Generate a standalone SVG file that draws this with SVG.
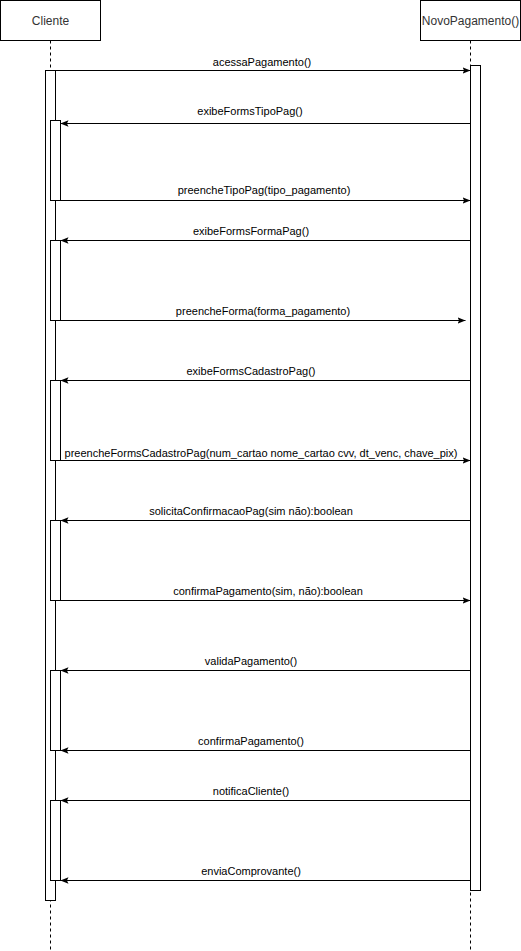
<svg xmlns="http://www.w3.org/2000/svg" width="521" height="951" viewBox="0 0 521 951">
<defs>
<style>
.box{fill:#fff;stroke:#000;stroke-width:1}
.life{stroke:#000;stroke-width:1;stroke-dasharray:3,3;fill:none}
.act{fill:#fff;stroke:#000;stroke-width:1}
.msg{stroke:#000;stroke-width:1;fill:none;marker-end:url(#arr)}
.hdr{font-family:"Liberation Sans",Arial,sans-serif;font-size:12px;fill:#333;text-anchor:middle}
.lbl{font-family:"Liberation Sans",Arial,sans-serif;font-size:11px;fill:#000;text-anchor:middle}
</style>
<marker id="arr" viewBox="0 0 10 10" refX="10" refY="5" markerWidth="8" markerHeight="8" markerUnits="userSpaceOnUse" orient="auto">
<path d="M0,1 L10,5 L0,9 L2,5 Z" fill="#000"/>
</marker>
</defs>
<rect width="521" height="951" fill="#fff"/>
<g id="Cliente">
<rect class="box" x="0.5" y="0.5" width="100" height="40"/>
<text class="hdr" x="50.5" y="24.5">Cliente</text>
<line class="life" x1="50.5" y1="40.5" x2="50.5" y2="951"/>
<rect class="act" x="45.5" y="70.5" width="10" height="830"/>
<rect class="act" x="50.5" y="120.5" width="10" height="80"/>
<rect class="act" x="50.5" y="240.5" width="10" height="80"/>
<rect class="act" x="50.5" y="380.5" width="10" height="80"/>
<rect class="act" x="50.5" y="520.5" width="10" height="80"/>
<rect class="act" x="50.5" y="670.5" width="10" height="80"/>
<rect class="act" x="50.5" y="800.5" width="10" height="80"/>
</g>
<g id="NovoPagamento">
<rect class="box" x="420.5" y="0.5" width="100" height="40"/>
<text class="hdr" x="470.5" y="24.5">NovoPagamento()</text>
<line class="life" x1="470.5" y1="40.5" x2="470.5" y2="951"/>
<rect class="act" x="470.5" y="65.5" width="10" height="825"/>
</g>
<g id="connectors">
<line class="msg" x1="55.5" y1="70.5" x2="470.5" y2="70.5"/>
<text class="lbl" x="262" y="66">acessaPagamento()</text>
<line class="msg" x1="470.5" y1="123.5" x2="60.5" y2="123.5"/>
<text class="lbl" x="250" y="115">exibeFormsTipoPag()</text>
<line class="msg" x1="50.5" y1="200.5" x2="470.5" y2="200.5"/>
<text class="lbl" x="264" y="194">preencheTipoPag(tipo_pagamento)</text>
<line class="msg" x1="470.5" y1="240.5" x2="60.5" y2="240.5"/>
<text class="lbl" x="251" y="235">exibeFormsFormaPag()</text>
<line class="msg" x1="50.5" y1="320.5" x2="465.5" y2="320.5"/>
<text class="lbl" x="263" y="315">preencheForma(forma_pagamento)</text>
<line class="msg" x1="470.5" y1="380.5" x2="60.5" y2="380.5"/>
<text class="lbl" x="251" y="375">exibeFormsCadastroPag()</text>
<line class="msg" x1="50.5" y1="460.5" x2="470.5" y2="460.5"/>
<text class="lbl" x="261" y="457">preencheFormsCadastroPag(num_cartao nome_cartao cvv, dt_venc, chave_pix)</text>
<line class="msg" x1="470.5" y1="520.5" x2="60.5" y2="520.5"/>
<text class="lbl" x="251" y="515">solicitaConfirmacaoPag(sim não):boolean</text>
<line class="msg" x1="50.5" y1="600.5" x2="470.5" y2="600.5"/>
<text class="lbl" x="268" y="595">confirmaPagamento(sim, não):boolean</text>
<line class="msg" x1="470.5" y1="670.5" x2="60.5" y2="670.5"/>
<text class="lbl" x="251" y="665">validaPagamento()</text>
<line class="msg" x1="470.5" y1="750.5" x2="60.5" y2="750.5"/>
<text class="lbl" x="251" y="745">confirmaPagamento()</text>
<line class="msg" x1="470.5" y1="800.5" x2="60.5" y2="800.5"/>
<text class="lbl" x="251" y="795">notificaCliente()</text>
<line class="msg" x1="470.5" y1="880.5" x2="60.5" y2="880.5"/>
<text class="lbl" x="251" y="875">enviaComprovante()</text>
</g>
</svg>
